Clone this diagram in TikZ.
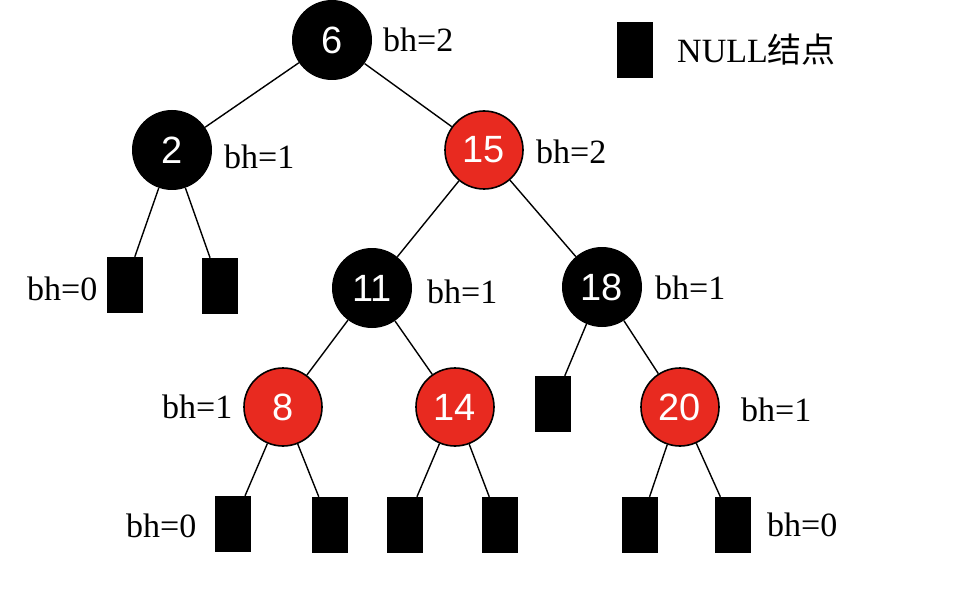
\documentclass[tikz,border=0pt]{standalone}
\usepackage{fontspec}
\setmainfont{Liberation Serif}
\newfontfamily\numfont{Liberation Sans}
\newfontfamily\cjk{Noto Sans CJK SC}
\definecolor{rbred}{RGB}{232,42,32}
\begin{document}
\begin{tikzpicture}[x=1pt,y=-1pt,
  rbnode/.style={circle,minimum size=80pt,inner sep=0pt,font=\numfont\fontsize{38}{40}\selectfont,text=white},
  blacknode/.style={rbnode,fill=black},
  rednode/.style={rbnode,fill=rbred,draw=black,line width=1.6pt,minimum size=78pt},
  nullnode/.style={rectangle,fill=black,minimum width=36pt,minimum height=56pt,inner sep=0pt},
  bhlabel/.style={font=\fontsize{34}{40}\selectfont,inner sep=0pt},
  edge/.style={line width=1.4pt}]
\useasboundingbox (0,0) rectangle (962,615);
\fill[white] (0,0) rectangle (962,615);
% tree nodes
\node[blacknode] (n6) at (332,40) {6};
\node[blacknode] (n2) at (172,150) {2};
\node[rednode] (n15) at (484,150) {15};
\node[blacknode] (n11) at (372,288) {11};
\node[blacknode] (n18) at (602,287) {18};
\node[rednode] (n8) at (283,407) {8};
\node[rednode] (n14) at (455,407) {14};
\node[rednode] (n20) at (680,407) {20};
% null leaves
\node[nullnode] (l2a) at (125,285) {};
\node[nullnode] (l2b) at (220,286) {};
\node[nullnode] (l18a) at (553,404) {};
\node[nullnode] (l8a) at (233,524) {};
\node[nullnode] (l8b) at (330,525) {};
\node[nullnode] (l14a) at (405,525) {};
\node[nullnode] (l14b) at (500,525) {};
\node[nullnode] (l20a) at (640,525) {};
\node[nullnode] (l20b) at (733,525) {};
% edges
\draw[edge] (n6) -- (n2);
\draw[edge] (n6) -- (n15);
\draw[edge] (n2) -- (l2a);
\draw[edge] (n2) -- (l2b);
\draw[edge] (n15) -- (n11);
\draw[edge] (n15) -- (n18);
\draw[edge] (n11) -- (n8);
\draw[edge] (n11) -- (n14);
\draw[edge] (n18) -- (l18a);
\draw[edge] (n18) -- (n20);
\draw[edge] (n8) -- (l8a);
\draw[edge] (n8) -- (l8b);
\draw[edge] (n14) -- (l14a);
\draw[edge] (n14) -- (l14b);
\draw[edge] (n20) -- (l20a);
\draw[edge] (n20) -- (l20b);
% bh labels
\node[bhlabel,anchor=west] (b6) at (383,40) {bh=2};
\node[bhlabel,anchor=west] (b2) at (224,157) {bh=1};
\node[bhlabel,anchor=west] (b15) at (536,152) {bh=2};
\node[bhlabel,anchor=west] (b0a) at (27,289) {bh=0};
\node[bhlabel,anchor=west] (b11) at (427,292) {bh=1};
\node[bhlabel,anchor=west] (b18) at (655,288) {bh=1};
\node[bhlabel,anchor=west] (b8) at (162,407) {bh=1};
\node[bhlabel,anchor=west] (b20) at (741,410) {bh=1};
\node[bhlabel,anchor=west] (b0b) at (126,526) {bh=0};
\node[bhlabel,anchor=west] (b0c) at (767,525) {bh=0};
% legend
\node[nullnode] (legbox) at (635,50) {};
\node[bhlabel,anchor=west] (legtext) at (677,50) {NULL{\cjk 结点}};
\end{tikzpicture}
\end{document}
